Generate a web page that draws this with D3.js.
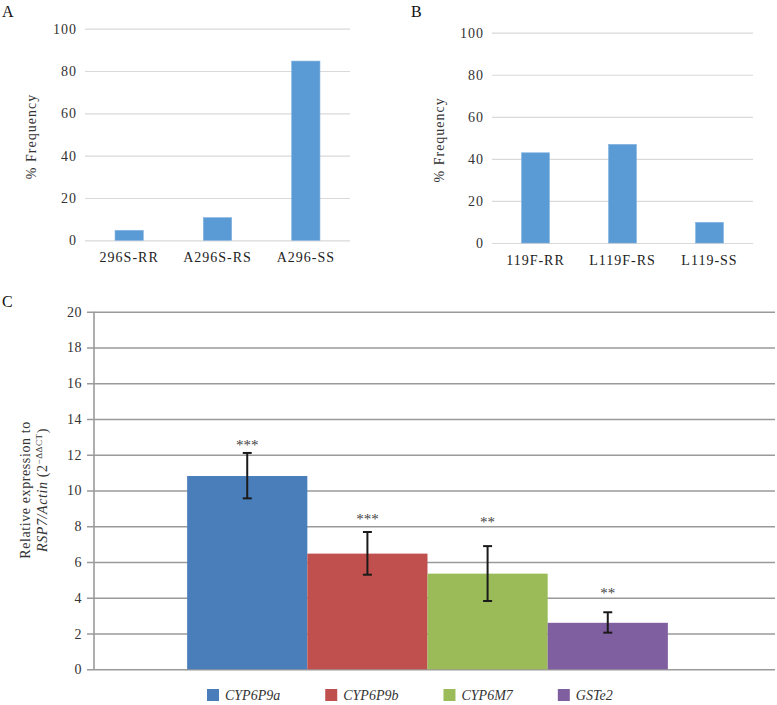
<!DOCTYPE html>
<html lang="en">
<head>
<meta charset="UTF-8">
<title>Genotype frequency and expression</title>
<style>
  body { margin: 0; background: #fff; }
</style>
<script src="https://cdn.jsdelivr.net/npm/d3@7"></script>
</head>
<body>
<script>
// panel A - A296S genotypes
var catsA = ['296S-RR', 'A296S-RS', 'A296-SS'];
var valsA = [4.7, 10.7, 84.7];
// panel B - L119F genotypes
var catsB = ['119F-RR', 'L119F-RS', 'L119-SS'];
var valsB = [42.9, 46.9, 9.8];
var freqTicks = [0, 20, 40, 60, 80, 100];

// panel C - expression
var genes = ['CYP6P9a', 'CYP6P9b', 'CYP6M7', 'GSTe2'];
var expr = [10.81, 6.47, 5.35, 2.6];
var errHi = [12.1, 7.68, 6.89, 3.19];
var errLo = [9.56, 5.29, 3.82, 2.05];
var stars = ['***', '***', '**', '**'];
var starAt = [12.73, 8.57, 8.4, 4.43];   // height of the star marks, in chart units
var exprTicks = [0, 2, 4, 6, 8, 10, 12, 14, 16, 18, 20];
var geneColors = ['#4A7EBB', '#C0504D', '#9BBB59', '#7F5F9F'];

var FONT = '"Liberation Serif", "DejaVu Serif", serif';
var W = 777, H = 705;
var svg = d3.select('body').append('svg').attr('width', W).attr('height', H);

// small frequency chart, used twice
function freqPanel(letter, lx, cats, vals, x0, x1, yTop, yBot, labX) {
  var g = svg.append('g');
  var x = d3.scaleBand().domain(cats).range([x0, x1]).paddingInner(0.68).paddingOuter(0.34);
  var y = d3.scaleLinear().domain([0, 100]).range([yBot, yTop]);

  var ax = g.append('g')
    .attr('transform', 'translate(' + x0 + ',0)')
    .call(d3.axisLeft(y).tickValues(freqTicks).tickSize(-(x1 - x0)).tickPadding(8));
  ax.select('.domain').remove();
  ax.selectAll('line').attr('stroke', '#d9d9d9').attr('stroke-width', 1.2);
  ax.selectAll('text').attr('font-size', 14).attr('fill', '#333').style('letter-spacing', '1px');

  g.selectAll('rect').data(vals).enter().append('rect')
    .attr('x', function(d, i) { return x(cats[i]); })
    .attr('y', function(d) { return y(d); })
    .attr('width', x.bandwidth())
    .attr('height', function(d) { return y(0) - y(d); })
    .attr('fill', '#5B9BD5')
    .attr('stroke', '#7fb0de').attr('stroke-width', 0.6);

  g.selectAll('text.cat').data(cats).enter().append('text')
    .attr('class', 'cat')
    .attr('x', function(d) { return x(d) + x.bandwidth() / 2; })
    .attr('y', yBot + 22)
    .attr('text-anchor', 'middle')
    .attr('font-size', 14)
    .style('letter-spacing', '1px')
    .attr('fill', '#222')
    .text(function(d) { return d; });

  g.append('text')
    .attr('transform', 'translate(' + labX + ',' + ((yTop + yBot) / 2 + 2) + ') rotate(-90)')
    .attr('text-anchor', 'middle')
    .attr('font-size', 14)
    .style('letter-spacing', '1px')
    .attr('fill', '#333')
    .text('% Frequency');

  svg.append('text').attr('x', lx).attr('y', 17).attr('font-size', 16).attr('fill', '#111').text(letter);
}

freqPanel('A', 2, catsA, valsA, 85, 350, 28.7, 240.3, 36);
freqPanel('B', 411, catsB, valsB, 492, 753, 32.7, 243, 444);

// panel C
var cx0 = 87, cAxis = 94, cx1 = 775;
var yC = d3.scaleLinear().domain([0, 20]).range([669.3, 311.7]);
var xC = d3.scaleBand().domain(genes).range([cAxis, 761]).paddingInner(0).paddingOuter(0.775);

var axC = svg.append('g')
  .attr('transform', 'translate(' + cx0 + ',0)')
  .call(d3.axisLeft(yC).tickValues(exprTicks).tickSize(-(cx1 - cx0)).tickPadding(5));
axC.select('.domain').remove();
axC.selectAll('line').attr('stroke', '#9a9a9a').attr('stroke-width', 1.6);
axC.selectAll('text').attr('font-size', 14).attr('fill', '#333').style('letter-spacing', '0.5px');

svg.append('line')
  .attr('x1', cAxis).attr('x2', cAxis)
  .attr('y1', yC(0)).attr('y2', yC(20))
  .attr('stroke', '#9a9a9a').attr('stroke-width', 1.6);

svg.selectAll('rect.gene').data(expr).enter().append('rect')
  .attr('class', 'gene')
  .attr('x', function(d, i) { return xC(genes[i]); })
  .attr('y', function(d) { return yC(d); })
  .attr('width', xC.bandwidth())
  .attr('height', function(d) { return yC(0) - yC(d); })
  .attr('fill', function(d, i) { return geneColors[i]; });

// error bars
var eb = svg.append('g').attr('stroke', '#1a1a1a').attr('stroke-width', 2);
genes.forEach(function(gname, i) {
  var mx = xC(gname) + xC.bandwidth() / 2;
  eb.append('line').attr('x1', mx).attr('x2', mx).attr('y1', yC(errHi[i])).attr('y2', yC(errLo[i]));
  eb.append('line').attr('x1', mx - 4.5).attr('x2', mx + 4.5).attr('y1', yC(errHi[i])).attr('y2', yC(errHi[i]));
  eb.append('line').attr('x1', mx - 4.5).attr('x2', mx + 4.5).attr('y1', yC(errLo[i])).attr('y2', yC(errLo[i]));
});

svg.selectAll('text.star').data(stars).enter().append('text')
  .attr('class', 'star')
  .attr('x', function(d, i) { return xC(genes[i]) + xC.bandwidth() / 2; })
  .attr('y', function(d, i) { return yC(starAt[i]) + 8; })
  .attr('text-anchor', 'middle')
  .attr('font-size', 15)
  .attr('fill', '#444')
  .text(function(d) { return d; });

// y label for C
var yl = svg.append('g').attr('transform', 'translate(0,490)');
yl.append('text')
  .attr('transform', 'translate(30,0) rotate(-90)')
  .attr('text-anchor', 'middle').attr('font-size', 14).attr('fill', '#333')
  .style('letter-spacing', '0.6px')
  .text('Relative expression to');
var l2 = yl.append('text')
  .attr('transform', 'translate(47,0) rotate(-90)')
  .attr('text-anchor', 'middle').attr('font-size', 14).attr('fill', '#333')
  .style('letter-spacing', '0.6px');
l2.append('tspan').attr('font-style', 'italic').text('RSP7/Actin');
l2.append('tspan').text(' (2');
l2.append('tspan').attr('font-size', 9).attr('dy', -5).text('\u2212\u0394\u0394CT');
l2.append('tspan').attr('dy', 5).text(')');

svg.append('text').attr('x', 2).attr('y', 307).attr('font-size', 16).attr('fill', '#111').text('C');

// legend
var lg = svg.append('g');
var lx = 207;
genes.forEach(function(gname, i) {
  lg.append('rect').attr('x', lx).attr('y', 689).attr('width', 12).attr('height', 12).attr('fill', geneColors[i]);
  var t = lg.append('text').attr('x', lx + 18).attr('y', 700)
    .attr('font-size', 14).attr('font-style', 'italic').attr('fill', '#333')
    .style('font-family', FONT).text(gname);
  lx += 18 + t.node().getComputedTextLength() + 45;
});

// one serif face for every label
svg.selectAll('text').style('font-family', FONT);
</script>
</body>
</html>
